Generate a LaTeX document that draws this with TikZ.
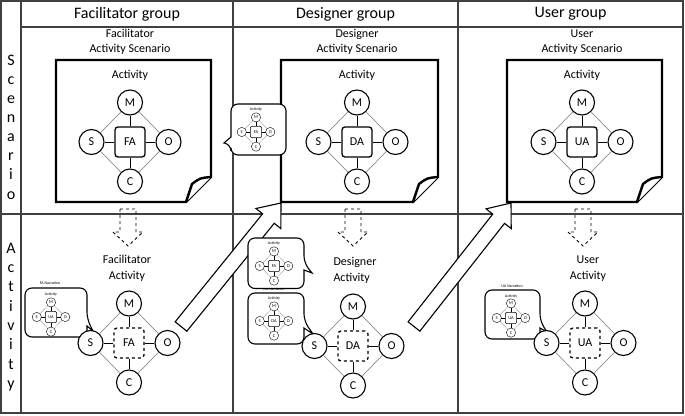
\documentclass[tikz,border=0pt]{standalone}
\usepackage{fontspec}
\setmainfont{Carlito}
\usetikzlibrary{calc}

\tikzset{
  gridline/.style={draw=black!75, line width=1.2pt},
  role/.style={circle, draw, line width=1.1pt, fill=white, minimum size=25pt, inner sep=0pt, font=\fontsize{12}{12}\selectfont},
  core/.style={rectangle, rounded corners=3pt, draw, line width=1.3pt, fill=white, minimum size=30pt, inner sep=0pt, font=\fontsize{12}{12}\selectfont},
  plan/.style={core, dashed},
  rim/.style={draw=black!45, line width=0.7pt},
  spoke/.style={draw, line width=1pt},
  mini/.style={role/.append style={line width=0.4pt}, core/.append style={line width=0.5pt, rounded corners=1pt},
    rim/.append style={line width=0.3pt}, spoke/.append style={line width=0.4pt}},
  scenario/.style={draw, line width=2.4pt, fill=white, line join=miter},
  bubble/.style={draw, line width=1.1pt, fill=white},
  bigarrow/.style={draw, line width=1.1pt, fill=white, line join=miter},
  downarrow/.style={draw, dashed, line width=0.9pt},
  header/.style={font=\fontsize{16}{16}\selectfont},
  title/.style={align=center, font=\fontsize{12}{15.5}\selectfont},
  tiny/.style={font=\fontsize{4}{4}\selectfont, inner sep=0pt},
}

% M-S-O-C diamond round an activity box
\newcommand{\actdiamond}[5]{%
  \begin{scope}[shift={#2}, #3, transform shape]
    \node[#5] (#1A) at (0,0) {#4};
    \node[role] (#1M) at (0,-39.5) {M};
    \node[role] (#1S) at (-38.5,0) {S};
    \node[role] (#1O) at (38.5,0) {O};
    \node[role] (#1C) at (0,39.5) {C};
    \draw[rim] (#1M) -- (#1O);
    \draw[rim] (#1O) -- (#1C);
    \draw[rim] (#1C) -- (#1S);
    \draw[rim] (#1S) -- (#1M);
    \draw[spoke] (#1A) -- (#1M) (#1A) -- (#1S) (#1A) -- (#1O) (#1A) -- (#1C);
  \end{scope}}

% wide hollow arrow from #1 to #2
\newcommand{\bigarrow}[2]{%
  \draw[bigarrow] ($(#1)!7.5pt!90:(#2)$) -- ($($(#2)!20pt!(#1)$)!7.5pt!90:(#2)$)
    -- ($($(#2)!20pt!(#1)$)!16pt!90:(#2)$) -- (#2)
    -- ($($(#2)!20pt!(#1)$)!16pt!-90:(#2)$) -- ($($(#2)!20pt!(#1)$)!7.5pt!-90:(#2)$)
    -- ($(#1)!7.5pt!-90:(#2)$) -- cycle;}

\begin{document}
\begin{tikzpicture}[x=1pt, y=-1pt]
  \useasboundingbox (0,0) rectangle (685,415);

  % Table
  \draw[gridline] (1,1) rectangle (683,413);
  \draw[gridline] (21,27) -- (683,27);
  \draw[gridline] (1,214) -- (683,214);
  \draw[gridline] (21,1) -- (21,413);
  \draw[gridline] (233,1) -- (233,413);
  \draw[gridline] (458,1) -- (458,413);

  \node[header] (fgroup) at (127,14) {Facilitator group};
  \node[header] (dgroup) at (345.5,14) {Designer group};
  \node[header] (ugroup) at (570.5,14) {User group};
  \node[align=center, anchor=north, inner sep=0pt, font=\fontsize{16}{19.1}\selectfont] (rowscen) at (11,54.8) {S\\c\\e\\n\\a\\r\\i\\o};
  \node[align=center, anchor=north, inner sep=0pt, font=\fontsize{16}{19.3}\selectfont] (rowact) at (11,242.8) {A\\c\\t\\i\\v\\i\\t\\y};

  % Scenario pages
  \node[title] (fscentitle) at (130,42) {Facilitator\\Activity Scenario};
  \node[title] (dscentitle) at (357,42) {Designer\\Activity Scenario};
  \node[title] (uscentitle) at (582,42) {User\\Activity Scenario};

  \draw[scenario] (56,60) -- (211,60) -- (211,177) -- (186,202) -- (56,202) -- cycle;
  \draw[scenario] (211,177) .. controls (200,178) .. (192,184) -- (186,202);
  \draw[scenario] (281,60) -- (438,60) -- (438,177) -- (413,202) -- (281,202) -- cycle;
  \draw[scenario] (438,177) .. controls (427,178) .. (419,184) -- (413,202);
  \draw[scenario] (507,60) -- (662,60) -- (662,177) -- (637,202) -- (507,202) -- cycle;
  \draw[scenario] (662,177) .. controls (651,178) .. (643,184) -- (637,202);

  \node[title] (fscenact) at (130,75) {Activity};
  \node[title] (dscenact) at (357,75) {Activity};
  \node[title] (uscenact) at (582,75) {Activity};
  \actdiamond{fs}{(130,142)}{scale=1}{FA}{core}
  \actdiamond{ds}{(357,142)}{scale=1}{DA}{core}
  \actdiamond{us}{(582,142)}{scale=1}{UA}{core}

  % Scenario -> activity
  \coordinate (fdown) at (128,209);
  \coordinate (ddown) at (353,209);
  \coordinate (udown) at (583,209);
  \draw[downarrow] (fdown) ++(-8,0) -- ++(16,0) -- ++(0,23) -- ++(7,0) -- ++(-15,14) -- ++(-15,-14) -- ++(7,0) -- cycle;
  \draw[downarrow] (ddown) ++(-8,0) -- ++(16,0) -- ++(0,23) -- ++(7,0) -- ++(-15,14) -- ++(-15,-14) -- ++(7,0) -- cycle;
  \draw[downarrow] (udown) ++(-8,0) -- ++(16,0) -- ++(0,23) -- ++(7,0) -- ++(-15,14) -- ++(-15,-14) -- ++(7,0) -- cycle;

  % Activities
  \node[title] (facttitle) at (127,268.5) {Facilitator\\Activity};
  \node[title, align=left] (dacttitle) at (355,270.5) {Designer\\Activity};
  \node[title] (uacttitle) at (588,268.5) {User\\Activity};

  % Hand-over arrows
  \coordinate (ftail) at (181,326.5);
  \coordinate (dtip) at (281,203);
  \coordinate (dtail) at (414,326.5);
  \coordinate (utip) at (511,203);
  \bigarrow{ftail}{dtip}
  \bigarrow{dtail}{utip}

  % Narration bubbles
  \draw[bubble] (286,130) [rounded corners=7pt] -- (286,155) -- (231,155) -- (231,144) [sharp corners] -- (224,143) -- (231,137) [rounded corners=7pt] -- (231,104) -- (286,104) -- cycle;
  \node[tiny] (dscenbubact) at (256,109) {Activity};
  \actdiamond{dsb}{(256,132)}{scale=0.37, mini}{FA}{core}

  \node[tiny] (fnarr) at (50,283) {FA Narration};
  \draw[bubble] (25,312) [rounded corners=7pt] -- (25,288) -- (87,288) -- (87,319) [sharp corners] -- (93,331) -- (87,326) [rounded corners=7pt] -- (87,337) -- (25,337) -- cycle;
  \node[tiny] (factbubact) at (51,294) {Activity};
  \actdiamond{fab}{(51,317)}{scale=0.37, mini}{UA}{core}

  \node[tiny] (dnarr) at (274,289.5) {DA Narration};
  \draw[bubble] (248,318) [rounded corners=7pt] -- (248,293) -- (304,293) -- (304,321) [sharp corners] -- (313,334) -- (304,328) [rounded corners=7pt] -- (304,344) -- (248,344) -- cycle;
  \node[tiny] (dactbubact2) at (274,298) {Activity};
  \actdiamond{dab2}{(274,321)}{scale=0.37, mini}{DA}{core}

  \draw[bubble] (248,263) [rounded corners=7pt] -- (248,238) -- (304,238) -- (304,263) [sharp corners] -- (312,273) -- (304,270) [rounded corners=7pt] -- (304,288.5) -- (248,288.5) -- cycle;
  \node[tiny] (dactbubact1) at (274,243) {Activity};
  \actdiamond{dab1}{(274,266)}{scale=0.37, mini}{FA}{core}

  \node[tiny] (unarr) at (512,286) {UA Narration};
  \draw[bubble] (485,315) [rounded corners=7pt] -- (485,290) -- (540,290) -- (540,321) [sharp corners] -- (547,332) -- (540,328) [rounded corners=7pt] -- (540,339) -- (485,339) -- cycle;
  \node[tiny] (uactbubact) at (511,296) {Activity};
  \actdiamond{uab}{(511,318)}{scale=0.37, mini}{UA}{core}

  \actdiamond{fa}{(129,343)}{scale=1}{FA}{plan}
  \actdiamond{da}{(353,346)}{scale=1}{DA}{plan}
  \actdiamond{ua}{(585,343)}{scale=1}{UA}{plan}
\end{tikzpicture}
\end{document}
